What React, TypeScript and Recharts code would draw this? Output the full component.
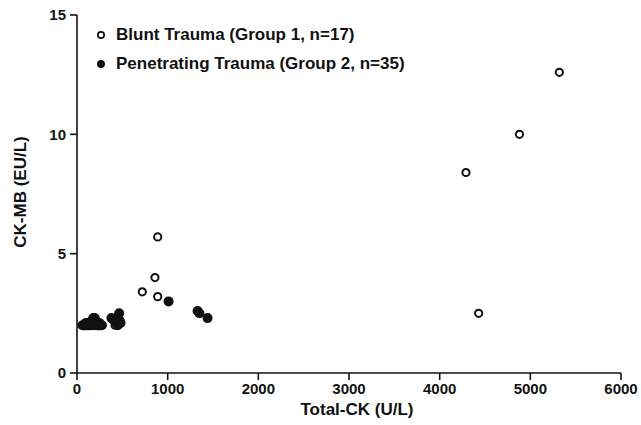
import React from 'react';
import { ScatterChart, Scatter, XAxis, YAxis } from 'recharts';

// Blunt trauma (group 1, n=17) - open circles
const BLUNT_CK = [5320, 4880, 4290, 4430, 890, 860, 890, 720, 70, 95, 115, 130, 170, 190, 230, 260, 420];
const BLUNT_MB = [12.6, 10.0, 8.4, 2.5, 5.7, 4.0, 3.2, 3.4, 2.0, 2.0, 2.0, 2.0, 2.0, 2.1, 2.0, 2.0, 2.0];

// Penetrating trauma (group 2, n=35) - filled circles
const PEN_CK = [
  1010, 1330, 1350, 1440,
  60, 75, 90, 100, 110, 125, 140, 150, 165, 180, 195, 205, 215, 225, 235, 245, 255, 265, 275, 120, 85, 200, 160, 240,
  380, 410, 430, 450, 465, 470, 480,
];
const PEN_MB = [
  3.0, 2.6, 2.5, 2.3,
  2.0, 2.0, 2.0, 2.1, 2.0, 2.0, 2.0, 2.1, 2.2, 2.3, 2.3, 2.2, 2.1, 2.0, 2.0, 2.1, 2.0, 2.0, 2.0, 2.1, 2.0, 2.0, 2.0, 2.0,
  2.3, 2.2, 2.1, 2.0, 2.5, 2.2, 2.1,
];

const X_TICKS = [0, 1000, 2000, 3000, 4000, 5000, 6000];
const Y_TICKS = [0, 5, 10, 15];

const LEGEND_LABELS = ['Blunt Trauma (Group 1, n=17)', 'Penetrating Trauma (Group 2, n=35)'];

const blunt = BLUNT_CK.map((ck, i) => ({ ck, mb: BLUNT_MB[i] }));
const penetrating = PEN_CK.map((ck, i) => ({ ck, mb: PEN_MB[i] }));

const FONT = '"Liberation Sans", Arial, sans-serif';
const INK = '#111';

const OpenDot = (props: any) => (
  <circle cx={props.cx} cy={props.cy} r={3.6} fill="#fff" stroke={INK} strokeWidth={2} />
);
const FilledDot = (props: any) => <circle cx={props.cx} cy={props.cy} r={5} fill={INK} />;

// legend drawn as an overlay so it does not push the plot down
const LegendBox = () => (
  <div
    style={{
      position: 'absolute',
      left: 95,
      top: 20,
      fontFamily: FONT,
      fontWeight: 700,
      fontSize: 17,
      color: INK,
      lineHeight: '29px',
      pointerEvents: 'none',
    }}
  >
    {LEGEND_LABELS.map((label, i) => (
      <div key={label} style={{ display: 'flex', alignItems: 'center', height: 29 }}>
        <svg width={12} height={12} style={{ marginRight: 9 }}>
          {i === 0 ? (
            <circle cx={6} cy={6} r={3.2} fill="#fff" stroke={INK} strokeWidth={1.7} />
          ) : (
            <circle cx={6} cy={6} r={4} fill={INK} />
          )}
        </svg>
        <span>{label}</span>
      </div>
    ))}
  </div>
);

const App: React.FC = () => {
  return (
    <div style={{ position: 'absolute', left: 0, top: 0, width: 641, height: 425, background: '#fff' }}>
      <ScatterChart width={641} height={425} margin={{ top: 15, right: 20, bottom: 0, left: 0 }}>
        <XAxis
          type="number"
          dataKey="ck"
          domain={[0, 6000]}
          ticks={X_TICKS}
          height={52}
          stroke={INK}
          strokeWidth={1.6}
          tickSize={7}
          tickMargin={3}
          tick={{ fill: INK, fontSize: 15, fontWeight: 700, fontFamily: FONT }}
          label={{
            content: ({ viewBox }: any) => (
              <text
                x={viewBox.x + viewBox.width / 2 + 8}
                y={viewBox.y + 42}
                textAnchor="middle"
                fill={INK}
                fontSize={17}
                fontWeight={700}
                fontFamily={FONT}
              >
                Total-CK (U/L)
              </text>
            ),
          }}
        />
        <YAxis
          type="number"
          dataKey="mb"
          domain={[0, 15]}
          ticks={Y_TICKS}
          width={77}
          stroke={INK}
          strokeWidth={1.6}
          tickSize={7}
          tickMargin={4}
          tick={{ fill: INK, fontSize: 15, fontWeight: 700, fontFamily: FONT }}
          label={{
            content: ({ viewBox }: any) => {
              const cx = 20;
              const cy = viewBox.y + viewBox.height / 2 - 2;
              return (
                <text
                  x={cx}
                  y={cy}
                  transform={`rotate(-90 ${cx} ${cy})`}
                  textAnchor="middle"
                  dominantBaseline="central"
                  fill={INK}
                  fontSize={17}
                  fontWeight={700}
                  fontFamily={FONT}
                >
                  CK-MB (EU/L)
                </text>
              );
            },
          }}
        />
        <Scatter data={blunt} shape={OpenDot} isAnimationActive={false} legendType="none" />
        <Scatter data={penetrating} shape={FilledDot} isAnimationActive={false} legendType="none" />
      </ScatterChart>
      <LegendBox />
    </div>
  );
};

export default App;
